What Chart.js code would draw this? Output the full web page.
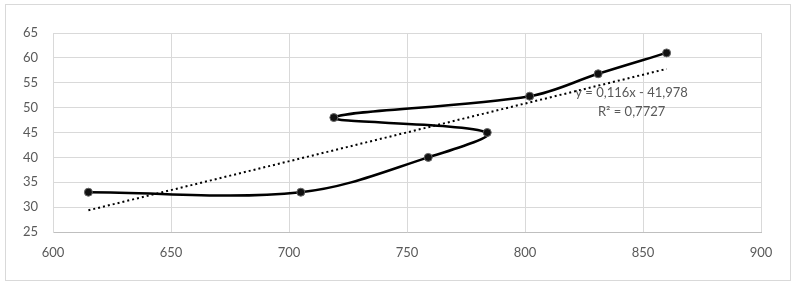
<!DOCTYPE html>
<html>
<head>
<meta charset="utf-8">
<script src="https://cdn.jsdelivr.net/npm/chart.js@4"></script>
<style>
  html, body { margin: 0; padding: 0; background: #fff; }
  #wrap { position: relative; width: 797px; height: 289px; }
  #frame { position: absolute; left: 5px; top: 4px; width: 784px; height: 275px; border: 1px solid #d9d9d9; }
  canvas { position: absolute; left: 0; top: 0; }
</style>
</head>
<body>
<div id="wrap">
  <div id="frame"></div>
  <canvas id="c" width="797" height="289"></canvas>
</div>
<script>
// series values
const xValues = [615, 705, 759, 784, 719, 802, 831, 860];
const yValues = [33, 33, 40, 45, 48, 52.3, 56.8, 61];

// trendline as printed on the chart
const trendSlope = 0.116;
const trendIntercept = -41.978;
const trendLabel = ["y = 0,116x - 41,978", "R\u00b2 = 0,7727"];

const xTicks = [600, 650, 700, 750, 800, 850, 900];
const yTicks = [25, 30, 35, 40, 45, 50, 55, 60, 65];

const points = xValues.map((x, i) => ({ x: x, y: yValues[i] }));
const xMin = Math.min(...xValues);
const xMax = Math.max(...xValues);
const trend = [xMin, xMax].map((x) => ({ x: x, y: trendSlope * x + trendIntercept }));

const font = { family: "Lato, 'Open Sans', sans-serif", size: 13 };
const textColor = "#595959";

// equation label next to the end of the trendline
const trendText = {
  id: "trendText",
  afterDatasetsDraw(chart) {
    const ctx = chart.ctx;
    const xs = chart.scales.x;
    const ys = chart.scales.y;
    const px = xs.getPixelForValue(xMax) - 35;
    const py = ys.getPixelForValue(trendSlope * xMax + trendIntercept) + 24;
    ctx.save();
    ctx.fillStyle = textColor;
    ctx.font = "13px " + font.family;
    ctx.textAlign = "center";
    ctx.textBaseline = "middle";
    ctx.fillText(trendLabel[0], px, py);
    ctx.fillText(trendLabel[1], px, py + 19);
    ctx.restore();
  }
};

new Chart(document.getElementById("c"), {
  type: "scatter",
  data: {
    datasets: [
      {
        data: points,
        showLine: true,
        borderColor: "#000",
        borderWidth: 2.5,
        tension: 0.35,
        pointRadius: 4,
        pointBackgroundColor: "#111",
        pointBorderColor: "#666",
        pointBorderWidth: 1,
        order: 1
      },
      {
        data: trend,
        showLine: true,
        borderColor: "#000",
        borderWidth: 2,
        borderDash: [2, 3],
        pointRadius: 0,
        order: 2
      }
    ]
  },
  options: {
    responsive: false,
    animation: false,
    layout: { padding: { top: 33, right: 36, left: 0, bottom: 0 } },
    plugins: {
      legend: { display: false },
      tooltip: { enabled: false }
    },
    scales: {
      x: {
        type: "linear",
        min: xTicks[0],
        max: xTicks[xTicks.length - 1],
        afterBuildTicks: (axis) => { axis.ticks = xTicks.map((v) => ({ value: v })); },
        afterFit: (axis) => { axis.height = 57; },
        grid: { color: "#d9d9d9", lineWidth: 1, drawTicks: false },
        border: { color: "#bfbfbf", width: 1 },
        ticks: { color: textColor, font: font, padding: 13, maxRotation: 0 }
      },
      y: {
        type: "linear",
        min: yTicks[0],
        max: yTicks[yTicks.length - 1],
        afterBuildTicks: (axis) => { axis.ticks = yTicks.map((v) => ({ value: v })); },
        afterFit: (axis) => { axis.width = 53; },
        grid: { color: "#d9d9d9", lineWidth: 1, drawTicks: false },
        border: { color: "#d9d9d9", width: 1 },
        ticks: { color: textColor, font: font, padding: 15 }
      }
    }
  },
  plugins: [trendText]
});
</script>
</body>
</html>
